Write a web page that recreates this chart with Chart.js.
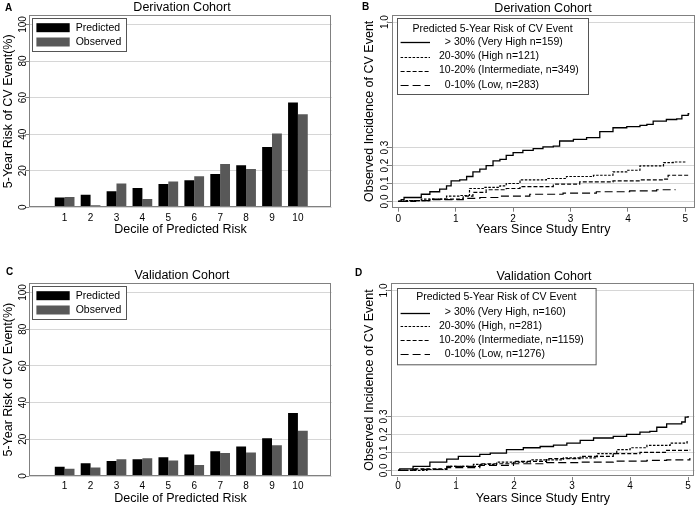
<!DOCTYPE html>
<html><head><meta charset="utf-8">
<script src="https://cdn.jsdelivr.net/npm/chart.js@4.4.1/dist/chart.umd.min.js"></script>
<style>
html,body{margin:0;padding:0;background:#fff;}
#wrap{position:relative;width:696px;height:505px;overflow:hidden;background:#fff;font-family:'Liberation Sans',Arial,sans-serif;color:#000;}
canvas{position:absolute;}
.lbl{position:absolute;font-weight:bold;font-size:10px;line-height:12px;}
.ttl{position:absolute;font-size:12.5px;line-height:15px;white-space:nowrap;transform:translateX(-50%);}
</style></head><body>
<div id="wrap">
<canvas id="cA" width="348" height="250" style="left:0px;top:0px;width:348px;height:250px"></canvas>
<canvas id="cB" width="348" height="250" style="left:348px;top:0px;width:348px;height:250px"></canvas>
<canvas id="cC" width="348" height="255" style="left:0px;top:250px;width:348px;height:255px"></canvas>
<canvas id="cD" width="348" height="255" style="left:348px;top:250px;width:348px;height:255px"></canvas>
<div class="lbl" style="left:5px;top:2px">A</div>
<div class="lbl" style="left:362px;top:1px">B</div>
<div class="lbl" style="left:6px;top:266px">C</div>
<div class="lbl" style="left:355px;top:267px">D</div>
<div class="ttl" style="left:182px;top:0px">Derivation Cohort</div>
<div class="ttl" style="left:543px;top:1px">Derivation Cohort</div>
<div class="ttl" style="left:182px;top:268px">Validation Cohort</div>
<div class="ttl" style="left:544px;top:269px">Validation Cohort</div>
</div>
<script>
// ---------- DATA ----------
const deciles = [1, 2, 3, 4, 5, 6, 7, 8, 9, 10];
const riskTicks = [0, 20, 40, 60, 80, 100];
const incidenceTicks = [0, 0.1, 0.2, 0.3, 1.0];
const yearTicks = [0, 1, 2, 3, 4, 5];

const derivPredicted = [5.3, 6.9, 8.8, 10.6, 12.8, 14.8, 18.2, 23.0, 33.0, 57.3];
const derivObserved  = [5.7, 1.1, 13.0, 4.6, 14.1, 17.0, 23.7, 21.0, 40.3, 50.9];
const validPredicted = [5.1, 6.9, 8.2, 9.1, 10.2, 11.7, 13.5, 16.1, 20.6, 34.3];
const validObserved  = [4.0, 4.6, 9.1, 9.7, 8.4, 6.0, 12.6, 12.8, 16.8, 24.6];

const barSeriesNames = ['Predicted', 'Observed'];
const legendTitle = 'Predicted 5-Year Risk of CV Event';
const derivGroups = ['  > 30% (Very High n=159)', '20-30% (High n=121)', '10-20% (Intermediate, n=349)', '  0-10% (Low, n=283)'];
const validGroups = ['  > 30% (Very High, n=160)', '20-30% (High, n=281)', '10-20% (Intermediate, n=1159)', '  0-10% (Low, n=1276)'];

// Derivation cohort Kaplan-Meier style curves (years, cumulative incidence)
const bVeryHighT = [0, 0.05, 0.10, 0.37, 0.40, 0.55, 0.72, 0.84, 0.92, 1.07, 1.19, 1.30, 1.42, 1.53, 1.65, 1.77, 1.88, 2.00, 2.17, 2.35, 2.52, 2.70, 2.81, 3.05, 3.28, 3.51, 3.74, 3.98, 4.21, 4.33, 4.44, 4.67, 4.85, 4.94, 5.05, 5.07];
const bVeryHighY = [0, 0.010, 0.022, 0.022, 0.040, 0.054, 0.069, 0.087, 0.115, 0.120, 0.139, 0.165, 0.180, 0.200, 0.226, 0.235, 0.257, 0.272, 0.285, 0.294, 0.304, 0.309, 0.337, 0.346, 0.356, 0.389, 0.411, 0.417, 0.424, 0.430, 0.448, 0.457, 0.461, 0.480, 0.489, 0.489];
const bHighT = [0, 0.10, 0.40, 0.84, 1.07, 1.24, 1.48, 1.77, 1.88, 2.12, 2.58, 2.93, 3.40, 3.74, 3.98, 4.21, 4.62, 4.79, 5.02];
const bHighY = [0, 0.004, 0.013, 0.030, 0.033, 0.072, 0.078, 0.087, 0.100, 0.120, 0.128, 0.139, 0.146, 0.165, 0.174, 0.198, 0.217, 0.220, 0.220];
const bInterT = [0, 0.20, 0.55, 1.13, 1.30, 1.53, 1.88, 2.12, 2.70, 3.16, 3.74, 4.21, 4.62, 4.70, 5.05];
const bInterY = [0, 0.004, 0.013, 0.030, 0.050, 0.065, 0.072, 0.083, 0.096, 0.109, 0.115, 0.120, 0.124, 0.146, 0.152];
const bLowT = [0, 0.30, 0.60, 1.13, 1.42, 1.77, 2.29, 2.87, 3.45, 4.03, 4.50, 4.82];
const bLowY = [0, 0.005, 0.010, 0.017, 0.022, 0.030, 0.040, 0.046, 0.054, 0.059, 0.065, 0.068];

// Validation cohort curves
const dVeryHighT = [0, 0.03, 0.26, 0.55, 0.84, 1.04, 1.41, 1.59, 1.87, 2.16, 2.45, 2.68, 2.91, 3.14, 3.37, 3.71, 3.94, 4.17, 4.34, 4.46, 4.63, 4.89, 4.95, 5.00];
const dVeryHighY = [0, 0.009, 0.022, 0.046, 0.063, 0.078, 0.089, 0.096, 0.115, 0.126, 0.133, 0.141, 0.152, 0.167, 0.180, 0.189, 0.200, 0.213, 0.217, 0.240, 0.259, 0.269, 0.296, 0.302];
const dHighT = [0, 0.50, 0.84, 1.30, 1.70, 2.28, 2.85, 3.43, 3.77, 4.00, 4.29, 4.69, 4.98, 5.02];
const dHighY = [0, 0.005, 0.022, 0.033, 0.046, 0.059, 0.070, 0.093, 0.115, 0.126, 0.139, 0.152, 0.159, 0.159];
const dInterT = [0, 0.26, 0.84, 1.41, 1.99, 2.56, 3.14, 3.71, 4.17, 4.63, 5.03];
const dInterY = [0, 0.009, 0.022, 0.037, 0.050, 0.065, 0.078, 0.093, 0.100, 0.111, 0.115];
const dLowT = [0, 0.26, 0.84, 1.41, 1.99, 2.56, 3.14, 3.71, 4.29, 4.63, 5.03];
const dLowY = [0, 0.006, 0.015, 0.028, 0.037, 0.043, 0.046, 0.052, 0.056, 0.059, 0.069];

// ---------- STYLE / LAYOUT ----------
const FAMILY = "'Liberation Sans', Arial, sans-serif";
Chart.defaults.font.family = FAMILY;
Chart.defaults.color = '#000';
const TICK_FS = 10, TITLE_FS = 12.5, LEG_FS = 10.5;
const GRID = '#d6d6d6', FRAME = '#808080', TICKC = '#808080';
const dashStyles = [[], [2.5, 1.5], [4, 2], [8, 4]];

function textW(t, fs) {
  const c = document.createElement('canvas').getContext('2d');
  c.font = fs + 'px ' + FAMILY;
  return c.measureText(t).width;
}

const framePlugin = {
  id: 'frame',
  afterDatasetsDraw(chart) {
    const {ctx, chartArea: a} = chart;
    ctx.save();
    ctx.strokeStyle = FRAME; ctx.lineWidth = 1;
    ctx.strokeRect(Math.round(a.left) + 0.5, Math.round(a.top) + 0.5, Math.round(a.right - a.left) - 1, Math.round(a.bottom - a.top) - 1);
    ctx.restore();
  }
};

const boxLegend = {
  id: 'boxLegend',
  afterDraw(chart, args, o) {
    if (!o || !o.show) return;
    const {ctx, chartArea: a} = chart;
    const x = Math.round(a.left + o.dx), y = Math.round(a.top + o.dy);
    ctx.save();
    ctx.fillStyle = '#fff';
    ctx.fillRect(x, y, o.w, o.h);
    ctx.strokeStyle = '#555'; ctx.lineWidth = 1;
    ctx.strokeRect(x + 0.5, y + 0.5, o.w, o.h);
    ctx.font = LEG_FS + 'px ' + FAMILY;
    ctx.textBaseline = 'middle';
    ctx.fillStyle = '#000';
    if (o.title) { ctx.textAlign = 'center'; ctx.fillText(o.title, x + o.w / 2, y + o.titleY); }
    ctx.textAlign = 'left';
    chart.data.datasets.forEach((ds, i) => {
      const cy = y + o.rowY + i * o.rowGap;
      if (o.kind === 'bar') {
        ctx.fillStyle = ds.backgroundColor;
        ctx.fillRect(x + o.swX, cy - o.swH / 2, o.swW, o.swH);
      } else {
        ctx.strokeStyle = ds.borderColor; ctx.lineWidth = ds.borderWidth;
        ctx.setLineDash(ds.borderDash || []);
        ctx.beginPath(); ctx.moveTo(x + o.swX, Math.round(cy) + 0.5); ctx.lineTo(x + o.swX + o.swW, Math.round(cy) + 0.5); ctx.stroke();
        ctx.setLineDash([]);
      }
      ctx.fillStyle = '#000';
      ctx.fillText(ds.label, x + o.txX, cy);
    });
    ctx.restore();
  }
};

// spec: canvas origin/size + desired chart area and text centres, all in page px
function axesFor(spec, yT, xT, yFmt, xFmt, yTitle, xTitle, xTicksMarks) {
  const L = spec.L - spec.ox, T = spec.T - spec.oy, R = spec.R - spec.ox, B = spec.B - spec.oy;
  const tl = 4;
  const widest = Math.max(...yT.map(v => textW(yFmt(v), TICK_FS)));
  const yPad = L - tl - widest / 2 - (spec.yTickX - spec.ox);
  const xtl = xTicksMarks ? tl : 0;
  const xPad = (spec.xTickY - spec.oy) - B - xtl - TICK_FS * 1.2 / 2;
  const lhT = TITLE_FS * 1.2;
  return {
    layout: {padding: {left: 0, top: T, right: spec.cw - R, bottom: 0}},
    scales: {
      x: {
        type: 'linear', min: spec.xmin, max: spec.xmax,
        afterBuildTicks: s => { s.ticks = xT.map(v => ({value: v})); },
        afterFit: s => { s.height = spec.ch - B; },
        ticks: {font: {size: TICK_FS}, color: '#000', maxRotation: 0, minRotation: 0, autoSkip: false, padding: xPad, callback: v => xFmt(v)},
        grid: {display: true, drawOnChartArea: false, drawTicks: xTicksMarks, tickLength: tl, tickColor: TICKC, color: GRID},
        border: {display: false},
        title: {display: true, text: xTitle, font: {size: TITLE_FS}, color: '#000', padding: {top: 0, bottom: spec.ch - (spec.xTitleY - spec.oy) - lhT / 2}}
      },
      y: {
        type: 'linear', min: spec.ymin, max: spec.ymax,
        afterBuildTicks: s => { s.ticks = yT.map(v => ({value: v})); },
        afterFit: s => { s.width = L; },
        ticks: {font: {size: TICK_FS}, color: '#000', minRotation: 90, maxRotation: 90, crossAlign: 'center', padding: yPad, autoSkip: false, callback: v => yFmt(v)},
        grid: {display: true, drawOnChartArea: true, drawTicks: true, tickLength: tl, tickColor: TICKC, color: GRID, lineWidth: 1},
        border: {display: false},
        title: {display: true, text: yTitle, font: {size: TITLE_FS}, color: '#000', padding: {top: (spec.yTitleX - spec.ox) - lhT / 2, bottom: 0}}
      }
    }
  };
}

function barChart(id, spec, pred, obs, leg) {
  const ax = axesFor(spec, riskTicks, deciles, v => String(v), v => String(v), '5-Year Risk of CV Event(%)', 'Decile of Predicted Risk', false);
  new Chart(document.getElementById(id), {
    type: 'bar',
    data: {
      datasets: [
        {label: barSeriesNames[0], data: deciles.map((d, i) => ({x: d, y: pred[i]})), backgroundColor: '#000', borderWidth: 0, categoryPercentage: 0.76, barPercentage: 1.0},
        {label: barSeriesNames[1], data: deciles.map((d, i) => ({x: d, y: obs[i]})), backgroundColor: '#585858', borderWidth: 0, categoryPercentage: 0.76, barPercentage: 1.0}
      ]
    },
    options: {
      responsive: false, animation: false, events: [],
      layout: ax.layout, scales: ax.scales,
      plugins: {legend: {display: false}, tooltip: {enabled: false}, boxLegend: leg}
    },
    plugins: [framePlugin, boxLegend]
  });
}

function kmChart(id, spec, series, names, leg) {
  const ax = axesFor(spec, incidenceTicks, yearTicks, v => v.toFixed(1), v => String(v), 'Observed Incidence of CV Event', 'Years Since Study Entry', true);
  new Chart(document.getElementById(id), {
    type: 'line',
    data: {
      datasets: series.map((s, k) => ({
        label: names[k],
        data: s[0].map((t, i) => ({x: t, y: s[1][i]})),
        borderColor: '#000', borderWidth: k === 0 ? 1.3 : 1.2, borderDash: dashStyles[k],
        stepped: true, pointRadius: 0, fill: false, tension: 0
      }))
    },
    options: {
      responsive: false, animation: false, events: [],
      layout: ax.layout, scales: ax.scales,
      plugins: {legend: {display: false}, tooltip: {enabled: false}, boxLegend: leg}
    },
    plugins: [framePlugin, boxLegend]
  });
}

const barLeg = {show: true, kind: 'bar', dx: 3, dy: 3, w: 94, h: 33, rowY: 9.7, rowGap: 14.3, swX: 4.4, swW: 33.3, swH: 9, txX: 43.7};

barChart('cA', {ox: 0, oy: 0, cw: 348, ch: 250, L: 29.3, T: 15.3, R: 331.7, B: 207.3, yTickX: 23, yTitleX: 8.5, xTickY: 218, xTitleY: 230, xmin: 0.22, xmax: 10.72, ymin: 0, ymax: 105}, derivPredicted, derivObserved, barLeg);
barChart('cC', {ox: 0, oy: 250, cw: 348, ch: 255, L: 29.3, T: 283.3, R: 331.7, B: 476, yTickX: 23, yTitleX: 8.5, xTickY: 486.7, xTitleY: 498.3, xmin: 0.22, xmax: 10.72, ymin: 0, ymax: 105}, validPredicted, validObserved, barLeg);

kmChart('cB', {ox: 348, oy: 0, cw: 348, ch: 250, L: 392, T: 15, R: 694.5, B: 207.7, yTickX: 385, yTitleX: 370, xTickY: 219, xTitleY: 229.5, xmin: -0.11, xmax: 5.16, ymin: -0.035, ymax: 1.04},
  [[bVeryHighT, bVeryHighY], [bHighT, bHighY], [bInterT, bInterY], [bLowT, bLowY]], derivGroups,
  {show: true, kind: 'line', title: legendTitle, dx: 4.7, dy: 3.3, w: 191, h: 76, titleY: 11, rowY: 24.4, rowGap: 14.1, swX: 3.6, swW: 29.4, txX: 42});
kmChart('cD', {ox: 348, oy: 250, cw: 348, ch: 255, L: 391.3, T: 283.3, R: 694.5, B: 476.7, yTickX: 384.5, yTitleX: 370, xTickY: 486.7, xTitleY: 498.3, xmin: -0.115, xmax: 5.11, ymin: -0.035, ymax: 1.04},
  [[dVeryHighT, dVeryHighY], [dHighT, dHighY], [dInterT, dInterY], [dLowT, dLowY]], validGroups,
  {show: true, kind: 'line', title: legendTitle, dx: 5.4, dy: 4.4, w: 198.6, h: 76.3, titleY: 9.6, rowY: 24.6, rowGap: 13.8, swX: 3.6, swW: 29.4, txX: 42});
</script>
</body></html>
